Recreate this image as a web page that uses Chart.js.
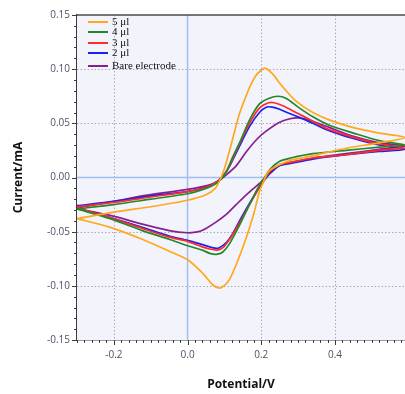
<!DOCTYPE html>
<html>
<head>
<meta charset="utf-8">
<script src="https://cdn.jsdelivr.net/npm/chart.js@4/dist/chart.umd.min.js"></script>
<style>
html,body{margin:0;padding:0;background:#fff;}
canvas{display:block;}
</style>
</head>
<body>
<canvas id="c" width="405" height="394"></canvas>
<script>
// ---- data (potential in V, current in mA); each loop = forward scan then reverse scan ----
const seriesLabels = ['5 \u03bcl', '4 \u03bcl', '3 \u03bcl', '2 \u03bcl', 'Bare electrode'];

const e5 = [-0.30,-0.20,-0.10,0.00,0.05,0.075,0.087,0.10,0.114,0.128,0.141,0.155,0.168,0.185,0.20,0.21,0.22,0.235,0.25,0.27,0.296,0.34,0.386,0.45,0.52,0.59,
            0.52,0.43,0.34,0.28,0.245,0.218,0.205,0.195,0.18,0.16,0.136,0.114,0.095,0.085,0.068,0.04,0.00,-0.05,-0.123,-0.21,-0.30];
const i5 = [-0.038,-0.032,-0.027,-0.021,-0.016,-0.010,-0.003,0.008,0.025,0.043,0.059,0.072,0.083,0.094,0.099,0.101,0.099,0.094,0.087,0.079,0.070,0.060,0.053,0.046,0.041,0.037,
            0.032,0.027,0.020,0.016,0.011,0.005,-0.005,-0.013,-0.033,-0.055,-0.077,-0.094,-0.101,-0.102,-0.099,-0.088,-0.076,-0.068,-0.057,-0.046,-0.038];

const e4 = [-0.30,-0.20,-0.10,0.00,0.05,0.08,0.095,0.105,0.12,0.141,0.168,0.195,0.22,0.245,0.268,0.30,0.34,0.386,0.45,0.52,0.59,
            0.52,0.43,0.34,0.28,0.25,0.225,0.209,0.195,0.168,0.141,0.114,0.095,0.078,0.06,0.04,0.00,-0.05,-0.123,-0.21,-0.30];
const i4 = [-0.029,-0.025,-0.020,-0.015,-0.010,-0.005,0.000,0.005,0.017,0.032,0.053,0.068,0.073,0.075,0.073,0.065,0.056,0.048,0.041,0.034,0.030,
            0.028,0.025,0.022,0.018,0.015,0.008,0.000,-0.007,-0.025,-0.044,-0.061,-0.069,-0.071,-0.070,-0.067,-0.063,-0.057,-0.049,-0.038,-0.029];

const e3 = [-0.30,-0.20,-0.10,0.00,0.05,0.08,0.095,0.11,0.125,0.141,0.168,0.195,0.22,0.235,0.26,0.30,0.34,0.386,0.45,0.52,0.59,
            0.52,0.43,0.34,0.28,0.25,0.225,0.21,0.195,0.168,0.141,0.114,0.095,0.08,0.06,0.04,0.00,-0.05,-0.123,-0.21,-0.30];
const i3 = [-0.027,-0.023,-0.018,-0.013,-0.009,-0.004,0.001,0.008,0.019,0.031,0.050,0.064,0.069,0.069,0.066,0.059,0.052,0.044,0.037,0.031,0.027,
            0.025,0.021,0.018,0.014,0.012,0.006,-0.001,-0.009,-0.025,-0.042,-0.057,-0.065,-0.067,-0.066,-0.064,-0.059,-0.055,-0.047,-0.037,-0.028];

const e2 = [-0.30,-0.20,-0.10,0.00,0.05,0.08,0.095,0.11,0.125,0.141,0.168,0.195,0.215,0.23,0.25,0.27,0.30,0.34,0.386,0.45,0.52,0.59,
            0.52,0.43,0.34,0.28,0.25,0.228,0.214,0.195,0.168,0.141,0.122,0.105,0.085,0.07,0.04,0.00,-0.05,-0.123,-0.21,-0.30];
const i2 = [-0.026,-0.022,-0.017,-0.013,-0.009,-0.004,0.001,0.008,0.018,0.029,0.047,0.060,0.065,0.065,0.063,0.060,0.056,0.050,0.043,0.036,0.030,0.026,
            0.024,0.021,0.017,0.013,0.011,0.006,0.000,-0.009,-0.024,-0.040,-0.052,-0.060,-0.065,-0.065,-0.062,-0.058,-0.054,-0.046,-0.037,-0.028];

const eB = [-0.30,-0.20,-0.123,0.00,0.058,0.085,0.10,0.13,0.16,0.19,0.214,0.25,0.275,0.30,0.33,0.386,0.45,0.52,0.59,
            0.52,0.43,0.34,0.28,0.25,0.225,0.20,0.176,0.15,0.132,0.105,0.078,0.05,0.03,0.00,-0.05,-0.123,-0.21,-0.30];
const iB = [-0.028,-0.022,-0.017,-0.011,-0.007,-0.003,0.001,0.010,0.024,0.036,0.043,0.051,0.054,0.055,0.053,0.046,0.038,0.032,0.029,
            0.026,0.022,0.018,0.014,0.011,0.004,-0.004,-0.011,-0.019,-0.025,-0.034,-0.041,-0.047,-0.050,-0.051,-0.049,-0.043,-0.035,-0.029];

const xMajorTicks = [-0.2, 0.0, 0.2, 0.4];
const yMajorTicks = [-0.15, -0.10, -0.05, 0.00, 0.05, 0.10, 0.15];
const xMinorStep = 0.02;
const yMinorStep = 0.01;

const seriesColors = ['#ffa81c', '#23882a', '#ff2a2a', '#1a22f0', '#86208e'];

function pts(xs, ys){ return xs.map((x,k)=>({x:x, y:ys[k]})); }
const seriesData = [pts(e5,i5), pts(e4,i4), pts(e3,i3), pts(e2,i2), pts(eB,iB)];

// ---- plugins ----
const plotDecor = {
  id: 'plotDecor',
  beforeDatasetsDraw(chart){
    const {ctx, chartArea:a, scales:{x, y}} = chart;
    ctx.save();
    ctx.fillStyle = '#f3f3fb';
    ctx.fillRect(a.left, a.top, a.right - a.left, a.bottom - a.top);
    // dotted grid
    ctx.strokeStyle = '#aaaab2';
    ctx.lineWidth = 1;
    ctx.setLineDash([1.5,2]);
    xMajorTicks.forEach(v=>{
      if (Math.abs(v) < 1e-9) return;
      const px = Math.round(x.getPixelForValue(v)) + 0.5;
      ctx.beginPath(); ctx.moveTo(px, a.top); ctx.lineTo(px, a.bottom); ctx.stroke();
    });
    yMajorTicks.forEach(v=>{
      if (Math.abs(v) < 1e-9 || Math.abs(Math.abs(v) - 0.15) < 1e-9) return;
      const py = Math.round(y.getPixelForValue(v)) + 0.5;
      ctx.beginPath(); ctx.moveTo(a.left, py); ctx.lineTo(a.right, py); ctx.stroke();
    });
    ctx.setLineDash([]);
    // zero lines
    ctx.strokeStyle = '#9cc0f0';
    ctx.lineWidth = 1.5;
    const zx = x.getPixelForValue(0), zy = y.getPixelForValue(0);
    ctx.beginPath(); ctx.moveTo(zx, a.top); ctx.lineTo(zx, a.bottom); ctx.stroke();
    ctx.beginPath(); ctx.moveTo(a.left, zy); ctx.lineTo(a.right, zy); ctx.stroke();
    ctx.restore();
  },
  afterDraw(chart){
    const {ctx, chartArea:a, scales:{x, y}} = chart;
    ctx.save();
    ctx.strokeStyle = '#3c3c3c';
    ctx.lineWidth = 1;
    // x ticks
    for (let k = Math.ceil(x.min / xMinorStep - 1e-6); k * xMinorStep <= x.max + 1e-9; k++){
      const v = k * xMinorStep;
      const major = xMajorTicks.some(t => Math.abs(t - v) < 1e-6);
      const px = Math.round(x.getPixelForValue(v)) + 0.5;
      ctx.beginPath(); ctx.moveTo(px, a.bottom); ctx.lineTo(px, a.bottom + (major ? 5 : 3)); ctx.stroke();
    }
    // y ticks
    for (let k = Math.ceil(y.min / yMinorStep - 1e-6); k * yMinorStep <= y.max + 1e-9; k++){
      const v = k * yMinorStep;
      const major = yMajorTicks.some(t => Math.abs(t - v) < 1e-6);
      const py = Math.round(y.getPixelForValue(v)) + 0.5;
      ctx.beginPath(); ctx.moveTo(a.left, py); ctx.lineTo(a.left - (major ? 5 : 3), py); ctx.stroke();
    }
    // top frame line
    ctx.strokeStyle = '#4a4a4a';
    ctx.lineWidth = 1.6;
    ctx.beginPath(); ctx.moveTo(a.left, a.top); ctx.lineTo(a.right, a.top); ctx.stroke();
    // legend
    const rowsY = [7, 17, 28, 38, 51];
    ctx.font = '11px "Liberation Serif", "Times New Roman", serif';
    ctx.textBaseline = 'middle';
    ctx.textAlign = 'left';
    chart.data.datasets.forEach((ds, k)=>{
      const ly = a.top + rowsY[k];
      ctx.strokeStyle = ds.borderColor;
      ctx.lineWidth = 2;
      ctx.beginPath(); ctx.moveTo(a.left + 11, ly); ctx.lineTo(a.left + 31, ly); ctx.stroke();
      ctx.fillStyle = '#111';
      ctx.fillText(ds.label, a.left + 35, ly);
    });
    ctx.restore();
  }
};

const tickFont = {family: '"Open Sans", "Noto Sans", sans-serif', size: 10};
const titleFont = {family: '"Open Sans", "Noto Sans", sans-serif', size: 12, weight: 'bold'};

new Chart(document.getElementById('c'), {
  type: 'scatter',
  data: {
    datasets: seriesData.map((d, k)=>({
      label: seriesLabels[k],
      data: d,
      showLine: true,
      borderColor: seriesColors[k],
      backgroundColor: seriesColors[k],
      borderWidth: 1.7,
      pointRadius: 0,
      tension: 0.25,
      fill: false
    }))
  },
  options: {
    responsive: false,
    animation: false,
    layout: {padding: {top: 15, right: 0, left: 0, bottom: 0}},
    plugins: {legend: {display: false}, tooltip: {enabled: false}},
    scales: {
      x: {
        type: 'linear', min: -0.3, max: 0.59,
        afterBuildTicks: s => { s.ticks = xMajorTicks.map(v => ({value: v})); },
        afterFit: s => { s.height = 54; },
        grid: {display: false, drawTicks: false},
        border: {display: true, color: '#3c3c3c', width: 1.5},
        ticks: {padding: 9, font: tickFont, color: '#4a5263', maxRotation: 0,
                callback: v => Number(v).toFixed(1)},
        title: {display: true, text: 'Potential/V', font: titleFont, color: '#111', padding: {top: 0, bottom: 2}}
      },
      y: {
        type: 'linear', min: -0.15, max: 0.15,
        afterBuildTicks: s => { s.ticks = yMajorTicks.map(v => ({value: v})); },
        afterFit: s => { s.width = 77; },
        grid: {display: false, drawTicks: false},
        border: {display: true, color: '#3c3c3c', width: 1.5},
        ticks: {padding: 7, font: tickFont, color: '#4a5263',
                callback: v => Number(v).toFixed(2)},
        title: {display: true, text: 'Current/mA', font: titleFont, color: '#111', padding: {top: 11, bottom: 0}}
      }
    }
  },
  plugins: [plotDecor]
});
</script>
</body>
</html>
